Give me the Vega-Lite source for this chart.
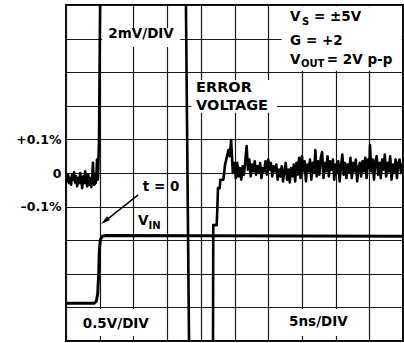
{
  "$schema": "https://vega.github.io/schema/vega-lite/v6.json",
  "width": 337,
  "height": 336,
  "autosize": {"type": "none"},
  "padding": {"left": 66, "top": 5, "right": 1, "bottom": 2},
  "background": "white",
  "config": {"view": {"stroke": "black", "strokeWidth": 2}, "font": "DejaVu Sans"},
  "datasets": {
    "error": [
      {"x": 0.00, "y": -0.10}, {"x": 0.03, "y": -0.25}, {"x": 0.06, "y": -0.05}, {"x": 0.09, "y": -0.30},
      {"x": 0.12, "y": -0.15}, {"x": 0.15, "y": -0.35}, {"x": 0.18, "y": -0.05}, {"x": 0.21, "y": -0.20},
      {"x": 0.24, "y": 0.02}, {"x": 0.27, "y": -0.28}, {"x": 0.30, "y": -0.10}, {"x": 0.33, "y": -0.40},
      {"x": 0.36, "y": -0.15}, {"x": 0.39, "y": -0.30}, {"x": 0.42, "y": 0.00}, {"x": 0.45, "y": -0.22},
      {"x": 0.48, "y": -0.45}, {"x": 0.51, "y": -0.10}, {"x": 0.54, "y": -0.30}, {"x": 0.57, "y": 0.05},
      {"x": 0.60, "y": -0.25}, {"x": 0.63, "y": -0.40}, {"x": 0.66, "y": -0.05}, {"x": 0.69, "y": -0.35},
      {"x": 0.72, "y": -0.15}, {"x": 0.75, "y": -0.42}, {"x": 0.78, "y": -0.10}, {"x": 0.80, "y": 0.30},
      {"x": 0.82, "y": -0.20}, {"x": 0.84, "y": -0.35}, {"x": 0.86, "y": -0.05}, {"x": 0.88, "y": -0.30},
      {"x": 0.90, "y": -0.15}, {"x": 0.92, "y": 0.40}, {"x": 0.94, "y": -0.20}, {"x": 0.95, "y": -0.10},
      {"x": 0.98, "y": 1.0}, {"x": 1.02, "y": 6}, {"x": 3.55, "y": 6}, {"x": 3.66, "y": -6},
      {"x": 4.36, "y": -6}, {"x": 4.37, "y": -1.55}, {"x": 4.47, "y": -1.55}, {"x": 4.49, "y": -1.1},
      {"x": 4.51, "y": -0.45}, {"x": 4.56, "y": -0.45}, {"x": 4.58, "y": -0.2}, {"x": 4.67, "y": -0.2},
      {"x": 4.72, "y": 0.25}, {"x": 4.82, "y": 0.68}, {"x": 4.86, "y": 0.5}, {"x": 4.90, "y": 0.98},
      {"x": 4.95, "y": 0.0}, {"x": 4.99, "y": 0.3}, {"x": 5.04, "y": -0.15},
      {"x": 5.08, "y": 0.30}, {"x": 5.12, "y": -0.10}, {"x": 5.16, "y": 0.15}, {"x": 5.20, "y": -0.20},
      {"x": 5.24, "y": 0.20}, {"x": 5.28, "y": -0.05}, {"x": 5.32, "y": 0.35}, {"x": 5.36, "y": 0.80},
      {"x": 5.40, "y": 0.10}, {"x": 5.44, "y": 0.40}, {"x": 5.48, "y": -0.10}, {"x": 5.52, "y": 0.25},
      {"x": 5.56, "y": 0.05}, {"x": 5.60, "y": 0.35}, {"x": 5.64, "y": -0.05}, {"x": 5.68, "y": 0.20},
      {"x": 5.72, "y": 0.00}, {"x": 5.76, "y": 0.30}, {"x": 5.80, "y": -0.15}, {"x": 5.84, "y": 0.15},
      {"x": 5.88, "y": 0.05}, {"x": 5.92, "y": 0.35}, {"x": 5.96, "y": -0.05}, {"x": 6.00, "y": 0.40},
      {"x": 6.04, "y": 0.10}, {"x": 6.08, "y": 0.30}, {"x": 6.12, "y": -0.10}, {"x": 6.16, "y": 0.20},
      {"x": 6.20, "y": 0.05}, {"x": 6.24, "y": 0.25}, {"x": 6.28, "y": -0.20}, {"x": 6.32, "y": 0.10},
      {"x": 6.36, "y": -0.10}, {"x": 6.40, "y": 0.20}, {"x": 6.44, "y": -0.25}, {"x": 6.48, "y": 0.05},
      {"x": 6.52, "y": 0.30}, {"x": 6.56, "y": -0.20}, {"x": 6.60, "y": 0.10}, {"x": 6.64, "y": -0.28},
      {"x": 6.68, "y": 0.15}, {"x": 6.72, "y": -0.10}, {"x": 6.76, "y": 0.25}, {"x": 6.80, "y": -0.25},
      {"x": 6.84, "y": 0.30}, {"x": 6.88, "y": -0.05}, {"x": 6.92, "y": 0.45}, {"x": 6.96, "y": -0.15},
      {"x": 7.00, "y": 0.50}, {"x": 7.04, "y": 0.05}, {"x": 7.08, "y": 0.35}, {"x": 7.12, "y": -0.25},
      {"x": 7.16, "y": 0.25}, {"x": 7.20, "y": 0.05}, {"x": 7.24, "y": 0.40}, {"x": 7.28, "y": -0.20},
      {"x": 7.32, "y": 0.30}, {"x": 7.36, "y": 0.00}, {"x": 7.40, "y": 0.68}, {"x": 7.44, "y": -0.10},
      {"x": 7.48, "y": 0.35}, {"x": 7.52, "y": -0.05}, {"x": 7.56, "y": 0.45}, {"x": 7.60, "y": 0.62},
      {"x": 7.64, "y": -0.15}, {"x": 7.68, "y": 0.30}, {"x": 7.72, "y": 0.05}, {"x": 7.76, "y": 0.50},
      {"x": 7.80, "y": -0.10}, {"x": 7.84, "y": 0.35}, {"x": 7.88, "y": 0.10}, {"x": 7.92, "y": 0.40},
      {"x": 7.96, "y": -0.20}, {"x": 8.00, "y": 0.25}, {"x": 8.04, "y": 0.00}, {"x": 8.08, "y": 0.35},
      {"x": 8.12, "y": -0.25}, {"x": 8.16, "y": 0.20}, {"x": 8.20, "y": 0.55}, {"x": 8.24, "y": -0.05},
      {"x": 8.28, "y": 0.30}, {"x": 8.32, "y": -0.15}, {"x": 8.36, "y": 0.25}, {"x": 8.40, "y": 0.00},
      {"x": 8.44, "y": 0.45}, {"x": 8.48, "y": -0.15}, {"x": 8.52, "y": 0.30}, {"x": 8.56, "y": 0.05},
      {"x": 8.60, "y": 0.40}, {"x": 8.64, "y": -0.25}, {"x": 8.68, "y": 0.15}, {"x": 8.72, "y": 0.30},
      {"x": 8.76, "y": -0.10}, {"x": 8.80, "y": 0.35}, {"x": 8.84, "y": 0.05}, {"x": 8.88, "y": 0.45},
      {"x": 8.92, "y": -0.15}, {"x": 8.96, "y": 0.40}, {"x": 9.00, "y": 0.15}, {"x": 9.02, "y": 0.83},
      {"x": 9.06, "y": 0.05}, {"x": 9.10, "y": 0.40}, {"x": 9.14, "y": -0.20}, {"x": 9.18, "y": 0.35},
      {"x": 9.22, "y": 0.50}, {"x": 9.26, "y": -0.05}, {"x": 9.30, "y": 0.30}, {"x": 9.34, "y": -0.15},
      {"x": 9.38, "y": 0.40}, {"x": 9.42, "y": 0.10}, {"x": 9.46, "y": 0.55}, {"x": 9.50, "y": -0.10},
      {"x": 9.54, "y": 0.30}, {"x": 9.58, "y": 0.05}, {"x": 9.62, "y": 0.50}, {"x": 9.66, "y": -0.20},
      {"x": 9.70, "y": 0.25}, {"x": 9.74, "y": 0.00}, {"x": 9.78, "y": 0.40}, {"x": 9.82, "y": -0.15},
      {"x": 9.86, "y": 0.30}, {"x": 9.90, "y": 0.40}, {"x": 9.94, "y": 0.00}, {"x": 9.98, "y": 0.25},
      {"x": 10.00, "y": 0.15}
    ],
    "vin": [
      {"x": 0, "y": -3.88}, {"x": 0.83, "y": -3.88}, {"x": 0.9, "y": -3.82}, {"x": 0.94, "y": -3.6},
      {"x": 0.97, "y": -3.0}, {"x": 0.99, "y": -2.3}, {"x": 1.02, "y": -1.98}, {"x": 1.08, "y": -1.88},
      {"x": 1.2, "y": -1.86}, {"x": 10, "y": -1.88}
    ],
    "vticks": [
      {"y": -4.8}, {"y": -4.6}, {"y": -4.4}, {"y": -4.2}, {"y": -3.8}, {"y": -3.6}, {"y": -3.4}, {"y": -3.2},
      {"y": -2.8}, {"y": -2.6}, {"y": -2.4}, {"y": -2.2}, {"y": -1.8}, {"y": -1.6}, {"y": -1.4}, {"y": -1.2},
      {"y": -0.8}, {"y": -0.6}, {"y": -0.4}, {"y": -0.2}, {"y": 0.2}, {"y": 0.4}, {"y": 0.6}, {"y": 0.8},
      {"y": 1.2}, {"y": 1.4}, {"y": 1.6}, {"y": 1.8}, {"y": 2.2}, {"y": 2.4}, {"y": 2.6}, {"y": 2.8},
      {"y": 3.2}, {"y": 3.4}, {"y": 3.6}, {"y": 3.8}, {"y": 4.2}, {"y": 4.4}, {"y": 4.6}, {"y": 4.8}
    ],
    "hticks": [
      {"x": 0.2}, {"x": 0.4}, {"x": 0.6}, {"x": 0.8}, {"x": 1.2}, {"x": 1.4}, {"x": 1.6}, {"x": 1.8},
      {"x": 2.2}, {"x": 2.4}, {"x": 2.6}, {"x": 2.8}, {"x": 3.2}, {"x": 3.4}, {"x": 3.6}, {"x": 3.8},
      {"x": 4.2}, {"x": 4.4}, {"x": 4.6}, {"x": 4.8}, {"x": 5.2}, {"x": 5.4}, {"x": 5.6}, {"x": 5.8},
      {"x": 6.2}, {"x": 6.4}, {"x": 6.6}, {"x": 6.8}, {"x": 7.2}, {"x": 7.4}, {"x": 7.6}, {"x": 7.8},
      {"x": 8.2}, {"x": 8.4}, {"x": 8.6}, {"x": 8.8}, {"x": 9.2}, {"x": 9.4}, {"x": 9.6}, {"x": 9.8}
    ],
    "boxes": [
      {"x": 1.07, "x2": 3.39, "y": 3.75, "y2": 4.31},
      {"x": 3.72, "x2": 6.26, "y": 1.79, "y2": 2.77},
      {"x": 6.4, "x2": 9.96, "y": 3.04, "y2": 4.96},
      {"x": 0.3, "x2": 2.6, "y": -4.85, "y2": -4.05},
      {"x": 6.2, "x2": 8.8, "y": -4.85, "y2": -4.05}
    ],
    "bigtext": [
      {"x": 3.86, "y": 2.53, "text": "ERROR"},
      {"x": 3.86, "y": 1.99, "text": "VOLTAGE"}
    ],
    "midtext": [
      {"x": 1.255, "y": 4.137, "text": "2mV/DIV"},
      {"x": 0.50, "y": -4.49, "text": "0.5V/DIV"},
      {"x": 6.62, "y": -4.43, "text": "5ns/DIV"},
      {"x": 2.28, "y": -0.42, "text": "t = 0"},
      {"x": 2.14, "y": -1.43, "text": "V"},
      {"x": 6.65, "y": 4.64, "text": "V"},
      {"x": 7.36, "y": 4.64, "text": "= ±5V"},
      {"x": 6.65, "y": 3.94, "text": "G = +2"},
      {"x": 6.65, "y": 3.36, "text": "V"},
      {"x": 7.74, "y": 3.36, "text": "= 2V p-p"}
    ],
    "subtext": [
      {"x": 2.45, "y": -1.58, "text": "IN"},
      {"x": 7.0, "y": 4.49, "text": "S"},
      {"x": 6.97, "y": 3.24, "text": "OUT"}
    ],
    "arrow": [
      {"x": 2.14, "y": -0.65}, {"x": 1.12, "y": -1.46}
    ],
    "arrowhead": [
      {"x": 1.15, "y": -1.43}
    ]
  },
  "encoding": {
    "x": {
      "field": "x", "type": "quantitative",
      "scale": {"domain": [0, 10], "nice": false, "zero": false},
      "axis": {"values": [0, 1, 2, 3, 4, 5, 6, 7, 8, 9, 10], "grid": true, "gridColor": "#1a1a1a", "gridWidth": 1.2,
               "labels": false, "ticks": false, "domain": false, "title": null}
    },
    "y": {
      "field": "y", "type": "quantitative",
      "scale": {"domain": [-5, 5], "nice": false, "zero": false},
      "axis": {"values": [-5, -4, -3, -2, -1, 0, 1, 2, 3, 4, 5], "grid": true, "gridColor": "#1a1a1a", "gridWidth": 1.2,
               "ticks": false, "domain": false, "title": null,
               "labelExpr": "datum.value == 1 ? '+0.1%' : datum.value == 0 ? '0' : datum.value == -1 ? '–0.1%' : ''",
               "labelFont": "DejaVu Sans", "labelFontWeight": "bold", "labelFontSize": 12.5,
               "labelColor": "black", "labelPadding": 5}
    }
  },
  "layer": [
    {
      "data": {"name": "vticks"},
      "mark": {"type": "tick", "orient": "horizontal", "size": 6, "thickness": 1.2, "color": "#1a1a1a"},
      "encoding": {"x": {"datum": 5, "type": "quantitative"}}
    },
    {
      "data": {"name": "hticks"},
      "mark": {"type": "tick", "orient": "vertical", "size": 6, "thickness": 1.2, "color": "#1a1a1a"},
      "encoding": {"y": {"datum": 0, "type": "quantitative"}}
    },
    {
      "data": {"name": "boxes"},
      "mark": {"type": "rect", "fill": "white", "strokeWidth": 0},
      "encoding": {"x2": {"field": "x2"}, "y2": {"field": "y2"}}
    },
    {
      "data": {"name": "vin"},
      "mark": {"type": "line", "color": "black", "strokeWidth": 3, "clip": true, "strokeJoin": "round"},
      "encoding": {}
    },
    {
      "data": {"name": "error"},
      "mark": {"type": "line", "color": "black", "strokeWidth": 2.6, "clip": true, "strokeJoin": "round"},
      "encoding": {}
    },
    {
      "data": {"name": "arrow"},
      "mark": {"type": "line", "color": "black", "strokeWidth": 1.5},
      "encoding": {}
    },
    {
      "data": {"name": "arrowhead"},
      "mark": {"type": "point", "shape": "M0,-1.2L0.6,1.2L-0.6,1.2Z", "size": 64, "angle": 232,
               "filled": true, "color": "black", "opacity": 1, "strokeWidth": 0}
    },
    {
      "data": {"name": "bigtext"},
      "mark": {"type": "text", "align": "left", "baseline": "middle", "font": "DejaVu Sans",
               "fontWeight": "bold", "fontSize": 14.5, "color": "black"},
      "encoding": {"text": {"field": "text"}}
    },
    {
      "data": {"name": "midtext"},
      "mark": {"type": "text", "align": "left", "baseline": "middle", "font": "DejaVu Sans",
               "fontWeight": "bold", "fontSize": 13.5, "color": "black"},
      "encoding": {"text": {"field": "text"}}
    },
    {
      "data": {"name": "subtext"},
      "mark": {"type": "text", "align": "left", "baseline": "middle", "font": "DejaVu Sans",
               "fontWeight": "bold", "fontSize": 10, "color": "black"},
      "encoding": {"text": {"field": "text"}}
    }
  ]
}
